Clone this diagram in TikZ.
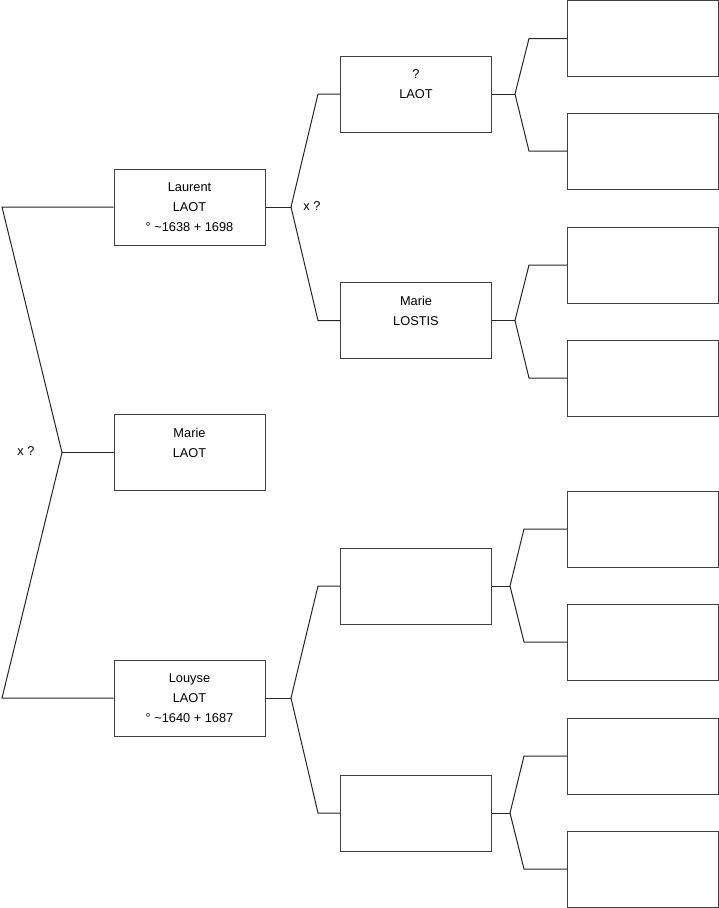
\documentclass[tikz,border=0pt]{standalone}
\usepackage{fontspec}
\setmainfont{Liberation Sans}
\usepackage{tikz}
\usetikzlibrary{positioning,calc}

\begin{document}
\begin{tikzpicture}[
  x=1pt, y=-1pt,
  person/.style={draw=black!75, line width=1pt, minimum width=151pt, minimum height=76pt, inner sep=0pt, align=center, font=\fontsize{12.8}{20}\selectfont},
  link/.style={draw=black!85, line width=1pt},
  union/.style={font=\fontsize{12.8}{14}\selectfont}
]
\useasboundingbox (0,0) rectangle (719,908);

% generation 1
\node[person] (laurent) at (189.5, 207) {Laurent\\LAOT\\° \textasciitilde1638 + 1698};
\node[person] (marie) at (189.5, 452.5) {Marie\\LAOT\\\mbox{}};
\node[person] (louyse) at (189.5, 698) {Louyse\\LAOT\\° \textasciitilde1640 + 1687};

% generation 2
\node[person] (pere) at (416, 94) {?\\LAOT\\\mbox{}};
\node[person] (mere) at (416, 320.5) {Marie\\LOSTIS\\\mbox{}};
\node[person] (gp3) at (416, 586) {};
\node[person] (gp4) at (416, 813) {};

% generation 3
\node[person] (a1) at (643, 38.5) {};
\node[person] (a2) at (643, 151) {};
\node[person] (a3) at (643, 265) {};
\node[person] (a4) at (643, 378) {};
\node[person] (a5) at (643, 529) {};
\node[person] (a6) at (643, 642) {};
\node[person] (a7) at (643, 756) {};
\node[person] (a8) at (643, 869) {};

% fork points
\coordinate (f0) at (62, 452.5);
\coordinate (f0t) at (2, 207);
\coordinate (f0b) at (2, 698);
\coordinate (f1) at (291, 207);
\coordinate (f1t) at (318, 94);
\coordinate (f1b) at (318, 320.5);
\coordinate (f2) at (291, 698);
\coordinate (f2t) at (318, 586);
\coordinate (f2b) at (318, 813);
\coordinate (f3) at (515, 94);
\coordinate (f3t) at (529, 38.5);
\coordinate (f3b) at (529, 151);
\coordinate (f4) at (515, 320.5);
\coordinate (f4t) at (529, 265);
\coordinate (f4b) at (529, 378);
\coordinate (f5) at (510, 586);
\coordinate (f5t) at (524, 529);
\coordinate (f5b) at (524, 642);
\coordinate (f6) at (510, 813);
\coordinate (f6t) at (524, 756);
\coordinate (f6b) at (524, 869);

\draw[link] (marie.west) -- (f0);
\draw[link] (laurent.west) -- (f0t) -- (f0) -- (f0b) -- (louyse.west);
\node[union] (u0) at (26, 451) {x ?};

\draw[link] (laurent.east) -- (f1);
\draw[link] (pere.west) -- (f1t) -- (f1) -- (f1b) -- (mere.west);
\node[union] (u1) at (312, 206) {x ?};

\draw[link] (louyse.east) -- (f2);
\draw[link] (gp3.west) -- (f2t) -- (f2) -- (f2b) -- (gp4.west);

\draw[link] (pere.east) -- (f3);
\draw[link] (a1.west) -- (f3t) -- (f3) -- (f3b) -- (a2.west);

\draw[link] (mere.east) -- (f4);
\draw[link] (a3.west) -- (f4t) -- (f4) -- (f4b) -- (a4.west);

\draw[link] (gp3.east) -- (f5);
\draw[link] (a5.west) -- (f5t) -- (f5) -- (f5b) -- (a6.west);

\draw[link] (gp4.east) -- (f6);
\draw[link] (a7.west) -- (f6t) -- (f6) -- (f6b) -- (a8.west);

\end{tikzpicture}
\end{document}
